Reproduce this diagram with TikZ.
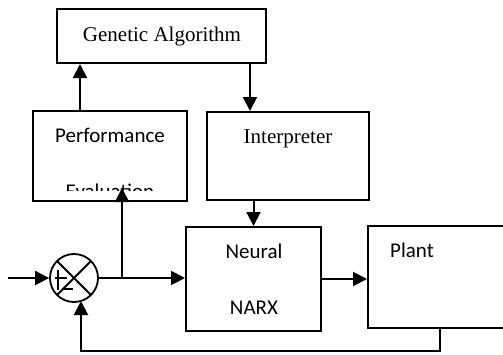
\documentclass[tikz,border=0pt]{standalone}
\usepackage{fontspec}
\setmainfont{Liberation Serif}
\newfontfamily\calib{Carlito}
\usetikzlibrary{arrows.meta,calc}
\begin{document}
\begin{tikzpicture}[x=1pt,y=-1pt,
 box/.style={draw,line width=2pt,rectangle,inner sep=0pt},
 conn/.style={line width=2pt,-{Triangle[length=14pt,width=14pt]}},
 plain/.style={line width=2pt},
 serif/.style={font=\fontsize{21}{25}\selectfont, anchor=base, inner sep=0pt},
 sans/.style={font=\calib\fontsize{21}{25}\selectfont, anchor=base, inner sep=0pt}]
\useasboundingbox (0,0) rectangle (503,354);
\clip (0,0) rectangle (503,354);
% boxes
\node[box, minimum width=209pt, minimum height=54pt] (ga) at (161.5,36) {};
\node[box, minimum width=154pt, minimum height=90pt] (perf) at (110,156) {};
\node[box, minimum width=162pt, minimum height=88pt] (interp) at (288,156) {};
\node[box, minimum width=135pt, minimum height=104pt] (neural) at (253.5,279) {};
\node[box, minimum width=144pt, minimum height=102pt] (plant) at (440,277) {};
\node[draw, circle, line width=1.8pt, minimum size=48pt, inner sep=0pt] (sum) at (74,278) {};
% texts
\node[serif] (tga) at (162,41) {Genetic Algorithm};
\node[sans] (tperf) at (110,142) {Performance};
\node[serif] (tint) at (288,143) {Interpreter};
\node[sans] (tneu) at (254,258) {Neural};
\node[sans] (tnarx) at (254,314) {NARX};
\node[sans, anchor=base west] (tplant) at (390,257) {Plant};
\begin{scope}
\clip (33,150) rectangle (187,190.5);
\node[sans] (teval) at (110,198.5) {Evaluation};
\end{scope}
% summing junction marks
\draw[line width=1.8pt] ($(sum.center)+(-17,-17)$) -- ($(sum.center)+(17,17)$);
\draw[line width=1.8pt] ($(sum.center)+(-17,17)$) -- ($(sum.center)+(17,-17)$);
\draw[line width=1.8pt] ($(sum.center)+(-16,-8)$) -- ($(sum.center)+(-16,12)$);
\draw[line width=1.8pt] ($(sum.center)+(-19,0)$) -- ($(sum.center)+(-7,0)$);
\draw[line width=1.8pt] ($(sum.center)+(-12,11)$) -- ($(sum.center)+(-1,11)$);
% connectors
\draw[conn] ($(perf.north west)+(48,0)$) coordinate (p1) -- (p1 |- ga.south);
\draw[conn] ($(ga.south east)+(-17,0)$) coordinate (p2) -- (p2 |- interp.north);
\draw[conn] (neural.north |- interp.south) -- (neural.north);
\draw[conn] (neural.east) -- (neural.east -| plant.west);
\coordinate (in) at (8,278);
\draw[conn] (in) -- (sum.west);
\draw[conn] (sum.east) -- (sum.east -| neural.west);
\coordinate (br) at (122,278);
\draw[conn] (br) -- ($(br |- perf.south)+(0,-14)$);
\coordinate (fb1) at ($(plant.south west)+(73,0)$);
\coordinate (fb2) at (81,351);
\draw[conn] (fb1) |- (fb2) -- ($(sum.center)+(7,23)$);
\end{tikzpicture}
\end{document}
